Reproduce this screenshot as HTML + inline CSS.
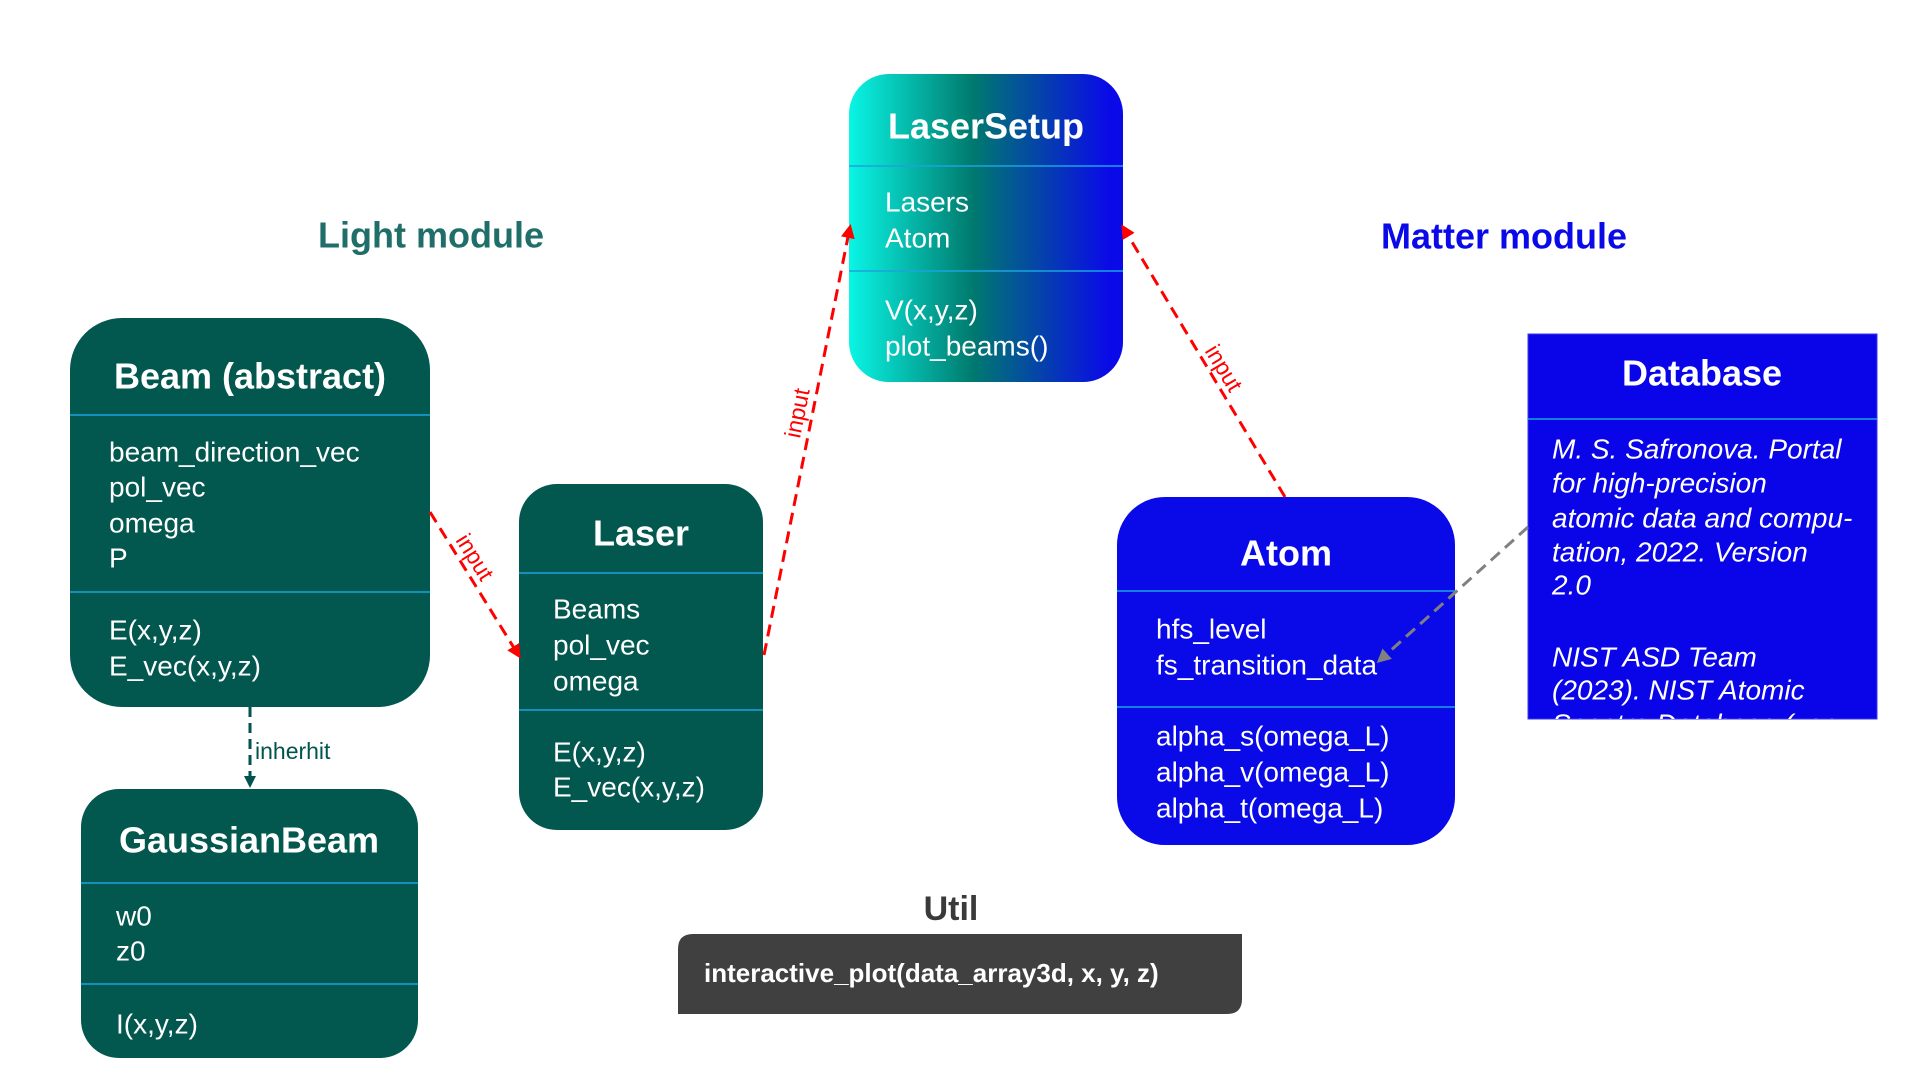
<!DOCTYPE html>
<html><head><meta charset="utf-8"><style>
html,body{margin:0;padding:0;background:#fff;}
svg{display:block;font-family:"Liberation Sans",Arial,sans-serif;}
.t{font-weight:bold;font-size:36px;fill:#fff;text-anchor:middle;dominant-baseline:central;}
.b{font-size:28px;fill:#fff;dominant-baseline:central;}
.div{stroke:#1aa3e0;stroke-width:1.5;}
</style></head><body>
<svg width="1920" height="1080" viewBox="0 0 1920 1080" xmlns="http://www.w3.org/2000/svg">
<defs>
<linearGradient id="g" x1="0" x2="1" y1="0" y2="0">
<stop offset="0" stop-color="#0af5e5"/>
<stop offset="0.45" stop-color="#007a6e"/>
<stop offset="0.95" stop-color="#0a0ae8"/>
<stop offset="1" stop-color="#0a0ae8"/>
</linearGradient>
<marker id="ar" markerWidth="14" markerHeight="14" refX="11" refY="7" orient="auto" markerUnits="userSpaceOnUse"><path d="M0,0 L14,7 L0,14 z" fill="#ff0000"/></marker>
<marker id="ag" markerWidth="14" markerHeight="14" refX="11" refY="7" orient="auto" markerUnits="userSpaceOnUse"><path d="M0,0 L14,7 L0,14 z" fill="#808080"/></marker>
<marker id="at" markerWidth="12" markerHeight="12" refX="10" refY="6" orient="auto" markerUnits="userSpaceOnUse"><path d="M0,0 L12,6 L0,12 z" fill="#02554f"/></marker>
</defs>

<text x="431" y="235" font-size="36" font-weight="bold" fill="#1f6e6a" text-anchor="middle" dominant-baseline="central">Light module</text>
<text x="1504" y="236" font-size="36" font-weight="bold" fill="#0a0ae8" text-anchor="middle" dominant-baseline="central">Matter module</text>

<!-- Beam -->
<rect x="70" y="318" width="360" height="389" rx="52" fill="#02574f"/>
<text class="t" x="250" y="376">Beam (abstract)</text>
<line class="div" x1="70" y1="415" x2="430" y2="415"/>
<line class="div" x1="70" y1="592" x2="430" y2="592"/>
<text class="b" x="109" y="452">beam_direction_vec</text>
<text class="b" x="109" y="487">pol_vec</text>
<text class="b" x="109" y="523">omega</text>
<text class="b" x="109" y="558">P</text>
<text class="b" x="109" y="630">E(x,y,z)</text>
<text class="b" x="109" y="666">E_vec(x,y,z)</text>

<!-- inherit -->
<line x1="250" y1="707" x2="250" y2="786" stroke="#02554f" stroke-width="3" stroke-dasharray="10,6" marker-end="url(#at)"/>
<text x="255" y="751" font-size="23" fill="#02554f" dominant-baseline="central">inherhit</text>

<!-- GaussianBeam -->
<rect x="81" y="789" width="337" height="269" rx="38" fill="#02574f"/>
<text class="t" x="249" y="840">GaussianBeam</text>
<line class="div" x1="81" y1="883" x2="418" y2="883"/>
<line class="div" x1="81" y1="984" x2="418" y2="984"/>
<text class="b" x="116" y="916">w0</text>
<text class="b" x="116" y="951">z0</text>
<text class="b" x="116" y="1024">I(x,y,z)</text>

<!-- Laser -->
<rect x="519" y="484" width="244" height="346" rx="38" fill="#02574f"/>
<text class="t" x="641" y="533">Laser</text>
<line class="div" x1="519" y1="573" x2="763" y2="573"/>
<line class="div" x1="519" y1="710" x2="763" y2="710"/>
<text class="b" x="553" y="609">Beams</text>
<text class="b" x="553" y="645">pol_vec</text>
<text class="b" x="553" y="681">omega</text>
<text class="b" x="553" y="752">E(x,y,z)</text>
<text class="b" x="553" y="787">E_vec(x,y,z)</text>

<!-- LaserSetup -->
<rect x="849" y="74" width="274" height="308" rx="40" fill="url(#g)"/>
<text class="t" x="986" y="126">LaserSetup</text>
<line class="div" x1="849" y1="166" x2="1123" y2="166"/>
<line class="div" x1="849" y1="271" x2="1123" y2="271"/>
<text class="b" x="885" y="202">Lasers</text>
<text class="b" x="885" y="238">Atom</text>
<text class="b" x="885" y="310">V(x,y,z)</text>
<text class="b" x="885" y="346">plot_beams()</text>

<!-- Atom -->
<rect x="1117" y="497" width="338" height="348" rx="48" fill="#0a0ae8"/>
<text class="t" x="1286" y="553">Atom</text>
<line class="div" x1="1117" y1="591" x2="1455" y2="591"/>
<line class="div" x1="1117" y1="707" x2="1455" y2="707"/>
<text class="b" x="1156" y="629">hfs_level</text>
<text class="b" x="1156" y="665">fs_transition_data</text>
<text class="b" x="1156" y="736">alpha_s(omega_L)</text>
<text class="b" x="1156" y="772">alpha_v(omega_L)</text>
<text class="b" x="1156" y="808">alpha_t(omega_L)</text>

<!-- Database -->
<clipPath id="dbc"><rect x="1528" y="334" width="349" height="385"/></clipPath>
<rect x="1528" y="334" width="349" height="385" fill="#0a04e8" stroke="#3a3af0" stroke-width="1"/>
<text class="t" x="1702" y="373">Database</text>
<line class="div" x1="1528" y1="419" x2="1877" y2="419"/>
<g clip-path="url(#dbc)" font-style="italic">
<text class="b" x="1552" y="449">M. S. Safronova. Portal</text>
<text class="b" x="1552" y="483">for high-precision</text>
<text class="b" x="1552" y="518">atomic data and compu-</text>
<text class="b" x="1552" y="552">tation, 2022. Version</text>
<text class="b" x="1552" y="585">2.0</text>
<text class="b" x="1552" y="657">NIST ASD Team</text>
<text class="b" x="1552" y="690">(2023). NIST Atomic</text>
<text class="b" x="1552" y="724">Spectra Database (ver.</text>
</g>

<!-- Util -->
<text x="951" y="909" font-size="34" font-weight="bold" fill="#3a3a3a" text-anchor="middle" dominant-baseline="central">Util</text>
<path d="M693,934 H1242 V999 Q1242,1014 1227,1014 H678 V949 Q678,934 693,934 Z" fill="#404040"/>
<text x="704" y="973" font-size="26" font-weight="bold" fill="#fff" dominant-baseline="central">interactive_plot(data_array3d, x, y, z)</text>

<!-- arrows -->
<g stroke="#ff0000" stroke-width="3" stroke-dasharray="12,7" fill="none">
<line x1="430" y1="512" x2="519" y2="656" marker-end="url(#ar)"/>
<line x1="764" y1="655" x2="850" y2="227" marker-end="url(#ar)"/>
<line x1="1285" y1="497" x2="1123" y2="227" marker-end="url(#ar)"/>
</g>
<line x1="1528" y1="527" x2="1379" y2="661" stroke="#808080" stroke-width="3" stroke-dasharray="12,7" marker-end="url(#ag)"/>
<g font-size="23" fill="#ff0000" text-anchor="middle" dominant-baseline="central">
<text transform="translate(475,557) rotate(58)">input</text>
<text transform="translate(797,413) rotate(-78.6)">input</text>
<text transform="translate(1224,368) rotate(59)">input</text>
</g>
</svg>
</body></html>
